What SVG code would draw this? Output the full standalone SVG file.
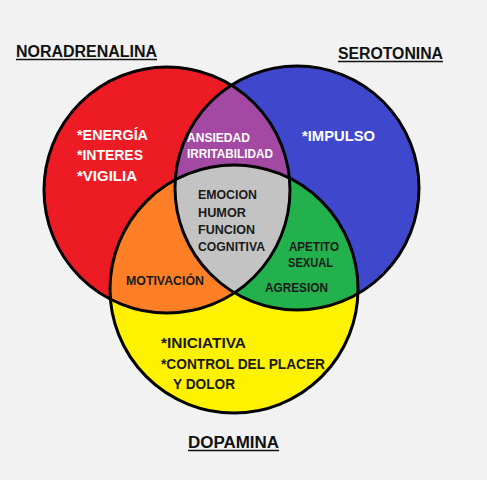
<svg xmlns="http://www.w3.org/2000/svg" width="487" height="480" viewBox="0 0 487 480">
<style>
.t{font-family:"Liberation Sans",Arial,sans-serif;font-weight:bold}
.title{font-size:16px;fill:#111}
.w{font-size:14.5px;fill:#fff}
.s{font-size:12px;fill:#1a1a1a}
.sw{font-size:12px;fill:#fff}
.y{font-size:14px;fill:#1a1a1a}
.edge{fill:none;stroke:#000;stroke-width:3}
.ul{stroke:#111;stroke-width:1.5}
</style>
<defs>
<clipPath id="cR"><circle cx="167" cy="190" r="123"/></clipPath>
<clipPath id="cB"><circle cx="297" cy="188" r="122"/></clipPath>
</defs>
<rect width="487" height="480" fill="#f2f2f2"/>
<g id="noradrenalina">
<circle cx="167" cy="190" r="123" fill="#ed1c24"/>
</g>
<g id="serotonina">
<circle cx="297" cy="188" r="122" fill="#3f48cc"/>
</g>
<g id="dopamina">
<circle cx="234" cy="289" r="124" fill="#fff200"/>
</g>
<g id="ansiedad">
<g clip-path="url(#cR)"><circle cx="297" cy="188" r="122" fill="#a349a4"/></g>
</g>
<g id="motivacion">
<g clip-path="url(#cR)"><circle cx="234" cy="289" r="124" fill="#ff7f27"/></g>
</g>
<g id="apetito">
<g clip-path="url(#cB)"><circle cx="234" cy="289" r="124" fill="#22b14c"/></g>
</g>
<g id="emocion">
<g clip-path="url(#cR)"><g clip-path="url(#cB)"><circle cx="234" cy="289" r="124" fill="#c3c3c3"/></g></g>
</g>
<g id="connectors">
<circle class="edge" cx="167" cy="190" r="123"/>
<circle class="edge" cx="297" cy="188" r="122"/>
<circle class="edge" cx="234" cy="289" r="124"/>
</g>
<g id="labels">
<text class="t title" x="16" y="57" textLength="141" lengthAdjust="spacingAndGlyphs">NORADRENALINA</text>
<line class="ul" x1="16" y1="59.5" x2="157" y2="59.5"/>
<text class="t title" x="338" y="59" textLength="105" lengthAdjust="spacingAndGlyphs">SEROTONINA</text>
<line class="ul" x1="338" y1="61.5" x2="443" y2="61.5"/>
<text class="t title" x="188" y="448" textLength="91" lengthAdjust="spacingAndGlyphs">DOPAMINA</text>
<line class="ul" x1="188" y1="450.5" x2="279" y2="450.5"/>

<text class="t w" x="77" y="140" textLength="71" lengthAdjust="spacingAndGlyphs">*ENERGÍA</text>
<text class="t w" x="77" y="160" textLength="66" lengthAdjust="spacingAndGlyphs">*INTERES</text>
<text class="t w" x="77" y="181" textLength="60" lengthAdjust="spacingAndGlyphs">*VIGILIA</text>
<text class="t w" x="302" y="141" textLength="73" lengthAdjust="spacingAndGlyphs">*IMPULSO</text>

<text class="t sw" x="187" y="142" textLength="63" lengthAdjust="spacingAndGlyphs">ANSIEDAD</text>
<text class="t sw" x="187" y="158" textLength="86" lengthAdjust="spacingAndGlyphs">IRRITABILIDAD</text>

<text class="t s" x="198" y="199" textLength="59" lengthAdjust="spacingAndGlyphs">EMOCION</text>
<text class="t s" x="198" y="217" textLength="48" lengthAdjust="spacingAndGlyphs">HUMOR</text>
<text class="t s" x="198" y="234" textLength="57" lengthAdjust="spacingAndGlyphs">FUNCION</text>
<text class="t s" x="198" y="251" textLength="67" lengthAdjust="spacingAndGlyphs">COGNITIVA</text>

<text class="t s" x="289" y="251" textLength="50" lengthAdjust="spacingAndGlyphs">APETITO</text>
<text class="t s" x="288" y="267" textLength="45" lengthAdjust="spacingAndGlyphs">SEXUAL</text>
<text class="t s" x="265" y="292" textLength="63" lengthAdjust="spacingAndGlyphs">AGRESION</text>

<text class="t s" x="126" y="285" textLength="78" lengthAdjust="spacingAndGlyphs">MOTIVACIÓN</text>

<text class="t y" x="161" y="348" textLength="85" lengthAdjust="spacingAndGlyphs">*INICIATIVA</text>
<text class="t y" x="161" y="369" textLength="164" lengthAdjust="spacingAndGlyphs">*CONTROL DEL PLACER</text>
<text class="t y" x="173" y="389" textLength="62" lengthAdjust="spacingAndGlyphs">Y DOLOR</text>
</g>
</svg>
